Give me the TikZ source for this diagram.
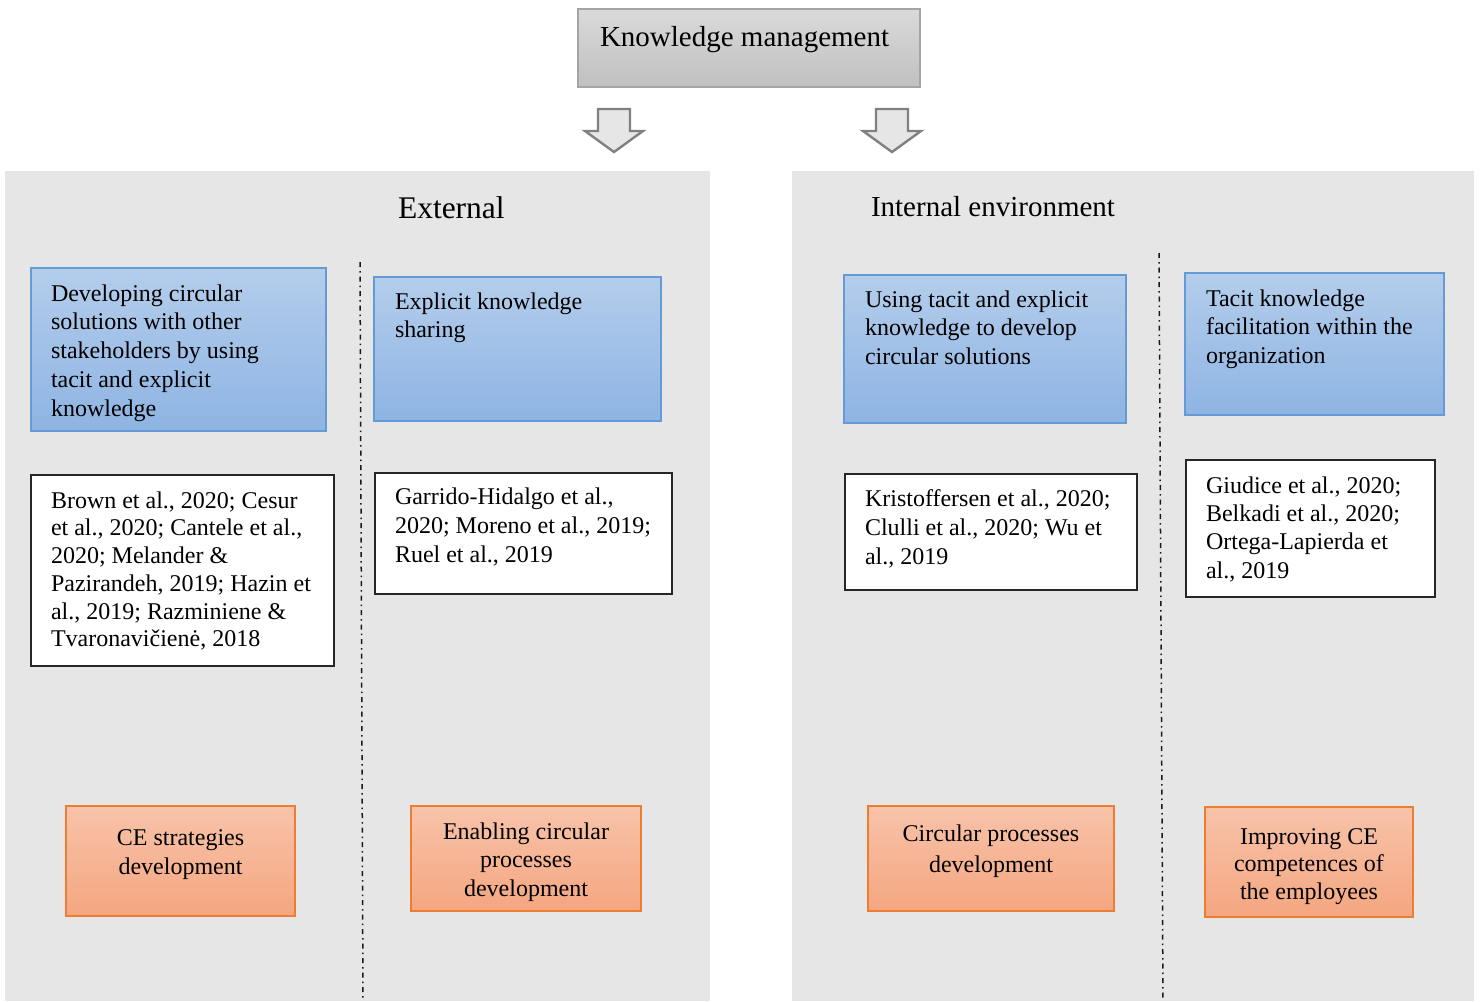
\documentclass[tikz,border=0pt]{standalone}
\usepackage{fontspec}
\setmainfont{Liberation Serif}
\usetikzlibrary{positioning}

\definecolor{panelgrey}{RGB}{230,230,230}
\definecolor{kmtop}{RGB}{218,218,218}
\definecolor{kmbot}{RGB}{192,192,192}
\definecolor{kmline}{RGB}{165,165,165}
\definecolor{bluetop}{RGB}{180,205,235}
\definecolor{bluebot}{RGB}{142,180,227}
\definecolor{blueline}{RGB}{100,155,215}
\definecolor{orangetop}{RGB}{248,195,170}
\definecolor{orangebot}{RGB}{244,166,128}
\definecolor{orangeline}{RGB}{237,125,49}
\definecolor{arrowline}{RGB}{128,128,128}

\tikzset{
  box/.style={rectangle, anchor=north west, inner sep=0, outer sep=0},
  kmbox/.style={box, draw=kmline, line width=1.2pt, top color=kmtop, bottom color=kmbot},
  bluebox/.style={box, draw=blueline, line width=1.2pt, top color=bluetop, bottom color=bluebot},
  refbox/.style={box, draw=black!85, line width=1.3pt, fill=white},
  orangebox/.style={box, draw=orangeline, line width=1.2pt, top color=orangetop, bottom color=orangebot},
  panel/.style={box, fill=panelgrey},
  blockarrow/.style={draw=arrowline, fill=panelgrey, line width=2.4pt, line join=miter},
  divider/.style={black!90, line width=1.5pt, dash pattern=on 5pt off 4pt on 1.5pt off 4pt},
  txt/.style={anchor=base west, inner sep=0, outer sep=0, yshift=-1.2pt},
  ctxt/.style={anchor=base, inner sep=0, outer sep=0, yshift=-1.2pt},
}

\newcommand{\lefttext}[3]{\parbox[t]{#1}{\raggedright\fontsize{24}{#2}\selectfont #3}}
\newcommand{\centertext}[3]{\parbox[t]{#1}{\centering\fontsize{24}{#2}\selectfont #3}}

\begin{document}
\begin{tikzpicture}[x=1pt,y=-1pt]
\useasboundingbox (0,0) rectangle (1480,1001);

% panels
\node[panel, minimum width=705, minimum height=830] (extpanel) at (5,171) {};
\node[panel, minimum width=682, minimum height=830] (intpanel) at (792,171) {};

% top box
\node[kmbox, minimum width=342, minimum height=78] (km) at (578,9) {};
\node[txt] (kmtext) at (600,45) {\fontsize{29}{34}\selectfont Knowledge management};

% block arrows below the top box
\foreach \cx in {614,892}{
  \draw[blockarrow] (\cx-16,109) -- (\cx+16,109) -- (\cx+16,131) -- (\cx+29,131)
    -- (\cx,152) -- (\cx-29,131) -- (\cx-16,131) -- cycle;
}

% panel titles
\node[txt] (exttitle) at (398,217) {\fontsize{31.5}{36}\selectfont External};
\node[txt] (inttitle) at (871,215) {\fontsize{29}{34}\selectfont Internal environment};

% dividers
\coordinate (d1top) at (360,262);
\coordinate (d1bot) at (363,1001);
\coordinate (d2top) at (1159,253);
\coordinate (d2bot) at (1163,1001);
\draw[divider] (d1top) -- (d1bot);
\draw[divider] (d2top) -- (d2bot);

% blue boxes
\node[bluebox, minimum width=295, minimum height=163] (b1) at (31,268) {};
\node[txt] (b1text) at (51,300) {\lefttext{270pt}{28.7}{Developing circular\\ solutions with other\\ stakeholders by using\\ tacit and explicit\\ knowledge}};

\node[bluebox, minimum width=287, minimum height=144] (b2) at (374,277) {};
\node[txt] (b2text) at (395,308) {\lefttext{260pt}{28.7}{Explicit knowledge\\ sharing}};

\node[bluebox, minimum width=282, minimum height=148] (b3) at (844,275) {};
\node[txt] (b3text) at (865,306) {\lefttext{260pt}{28.7}{Using tacit and explicit\\ knowledge to develop\\ circular solutions}};

\node[bluebox, minimum width=259, minimum height=142] (b4) at (1185,273) {};
\node[txt] (b4text) at (1206,305) {\lefttext{240pt}{28.7}{Tacit knowledge\\ facilitation within the\\ organization}};

% reference boxes
\node[refbox, minimum width=303, minimum height=191] (r1) at (31,475) {};
\node[txt] (r1text) at (51,507) {\lefttext{280pt}{27.7}{Brown et al., 2020; Cesur\\ et al., 2020; Cantele et al.,\\ 2020; Melander \&\\ Pazirandeh, 2019; Hazin et\\ al., 2019; Razminiene \&\\ Tvaronavičienė, 2018}};

\node[refbox, minimum width=297, minimum height=121] (r2) at (375,473) {};
\node[txt] (r2text) at (395,503) {\lefttext{275pt}{29}{Garrido-Hidalgo et al.,\\ 2020; Moreno et al., 2019;\\ Ruel et al., 2019}};

\node[refbox, minimum width=292, minimum height=116] (r3) at (845,474) {};
\node[txt] (r3text) at (865,505) {\lefttext{270pt}{29}{Kristoffersen et al., 2020;\\ Clulli et al., 2020; Wu et\\ al., 2019}};

\node[refbox, minimum width=249, minimum height=137] (r4) at (1186,460) {};
\node[txt] (r4text) at (1206,492) {\lefttext{230pt}{28.3}{Giudice et al., 2020;\\ Belkadi et al., 2020;\\ Ortega-Lapierda et\\ al., 2019}};

% outcome boxes
\node[orangebox, minimum width=229, minimum height=110] (o1) at (66,806) {};
\node[ctxt] (o1text) at (180.5,844) {\centertext{220pt}{29}{CE strategies\\ development}};

\node[orangebox, minimum width=230, minimum height=105] (o2) at (411,806) {};
\node[ctxt] (o2text) at (526,838) {\centertext{220pt}{28.5}{Enabling circular\\ processes\\ development}};

\node[orangebox, minimum width=246, minimum height=105] (o3) at (868,806) {};
\node[ctxt] (o3text) at (991,840) {\centertext{240pt}{31}{Circular processes\\ development}};

\node[orangebox, minimum width=208, minimum height=110] (o4) at (1205,807) {};
\node[ctxt] (o4text) at (1309,843) {\centertext{200pt}{27.7}{Improving CE\\ competences of\\ the employees}};

\end{tikzpicture}
\end{document}
